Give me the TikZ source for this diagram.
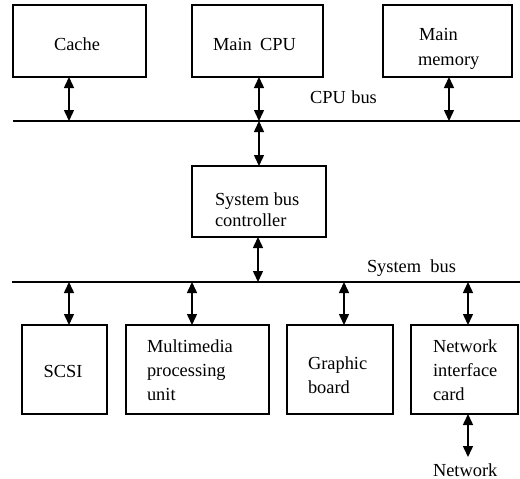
\documentclass[tikz,border=0pt]{standalone}
\usepackage{fontspec}
\setmainfont{Liberation Serif}
\usetikzlibrary{arrows.meta}
\begin{document}
\begin{tikzpicture}[x=1pt,y=-1pt,
  unit/.style={draw,line width=1.5pt,inner sep=0pt,outer sep=0pt},
  txt/.style={inner sep=0pt,outer sep=0pt,anchor=base west,font=\fontsize{18.4}{24}\selectfont},
  txtc/.style={txt,anchor=base},
  bus/.style={line width=2.4pt},
  link/.style={line width=1.5pt,{Triangle[length=11pt,width=10pt]}-{Triangle[length=11pt,width=10pt]}}]
\useasboundingbox (0,0) rectangle (520,479);

% ---- boxes ----
\node[unit,minimum width=133pt,minimum height=72pt] (cache) at (79.5,41) {};
\node[unit,minimum width=131pt,minimum height=72pt] (cpu)   at (257.5,41) {};
\node[unit,minimum width=129pt,minimum height=72pt] (mem)   at (447.5,41) {};
\node[unit,minimum width=134pt,minimum height=71pt] (sbc)   at (259,201.5) {};
\node[unit,minimum width=85pt,minimum height=89pt]  (scsi)  at (64.5,369.5) {};
\node[unit,minimum width=143pt,minimum height=89pt] (mm)    at (197.5,369.5) {};
\node[unit,minimum width=106pt,minimum height=89pt] (gb)    at (340,369.5) {};
\node[unit,minimum width=107pt,minimum height=89pt] (nic)   at (464.5,369.5) {};

% ---- box texts ----
\node[txtc] (tcache) at (77,50) {Cache};
\node[txt] (tcpu) at (213,50) {Main\hspace{0.45em}CPU};
\node[txt] (tmem1) at (419,40) {Main};
\node[txt] (tmem2) at (418,65) {memory};
\node[txt] (tsbc1) at (215,205) {System bus};
\node[txt] (tsbc2) at (215,226) {controller};
\node[txtc] (tscsi) at (63,377) {SCSI};
\node[txt] (tmm1) at (147,352) {Multimedia};
\node[txt] (tmm2) at (147,376) {processing};
\node[txt] (tmm3) at (147,400) {unit};
\node[txt] (tgb1) at (308,369) {Graphic};
\node[txt] (tgb2) at (308,393) {board};
\node[txt] (tnic1) at (433,352) {Network};
\node[txt] (tnic2) at (433,376) {interface};
\node[txt] (tnic3) at (433,400) {card};

% ---- buses ----
\coordinate (cpuL) at (13,121);
\coordinate (cpuR) at (520,121);
\coordinate (sysL) at (12,282);
\coordinate (sysR) at (520,282);
\draw[bus] (cpuL) -- (cpuR);
\draw[bus] (sysL) -- (sysR);
\node[txt] (lcpubus) at (310,103) {CPU\hspace{0.3em}bus};
\node[txt] (lsysbus) at (367,272) {System\hspace{0.5em}bus};

% ---- bus taps ----
\coordinate (c1) at (69,121);
\coordinate (c2) at (259,121);
\coordinate (c3) at (449,121);
\coordinate (s0) at (258,282);
\coordinate (s1) at (69,282);
\coordinate (s2) at (192,282);
\coordinate (s3) at (344,282);
\coordinate (s4) at (468,282);

\draw[link] (c1 |- cache.south) -- (c1);
\draw[link] (c2 |- cpu.south) -- (c2);
\draw[link] (c3 |- mem.south) -- (c3);
\draw[link] (c2) -- (c2 |- sbc.north);
\draw[link] (s0 |- sbc.south) -- (s0);
\draw[link] (s1) -- (s1 |- scsi.north);
\draw[link] (s2) -- (s2 |- mm.north);
\draw[link] (s3) -- (s3 |- gb.north);
\draw[link] (s4) -- (s4 |- nic.north);

% ---- network link ----
\coordinate (net) at (468,457);
\draw[link] (s4 |- nic.south) -- (net);
\node[txt] (lnet) at (433,476) {Network};
\end{tikzpicture}
\end{document}
